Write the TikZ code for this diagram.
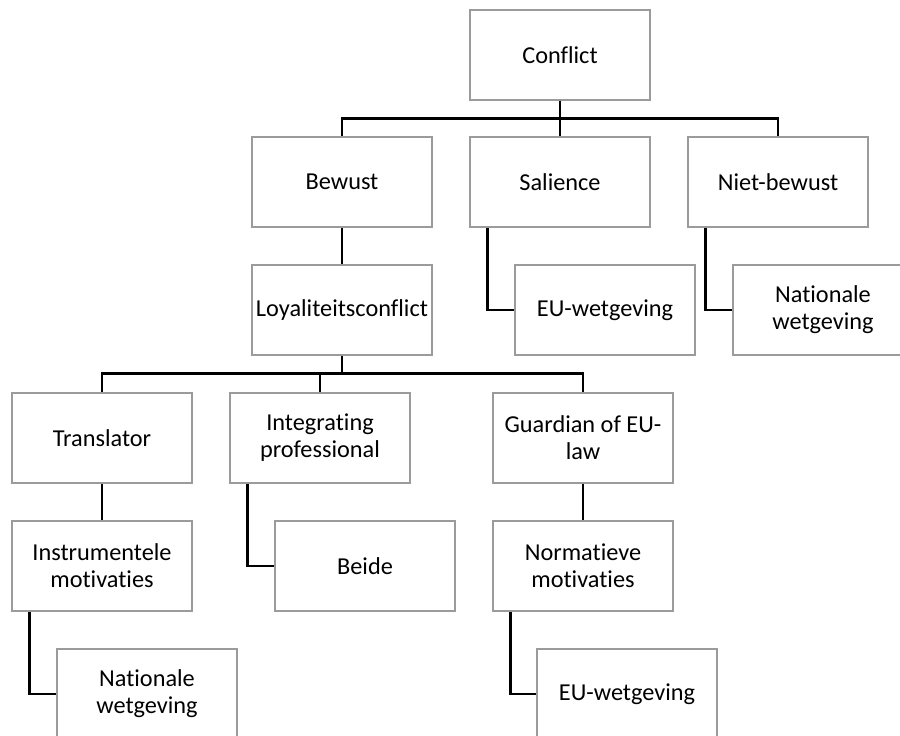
\documentclass[tikz,border=0pt]{standalone}
\usepackage{fontspec}
\setmainfont{Carlito}[Ligatures={NoCommon}]
\definecolor{boxgray}{RGB}{155,155,155}
\begin{document}
\begin{tikzpicture}[x=1pt,y=-1pt,
  box/.style={draw=boxgray, line width=1.1pt, fill=white,
    minimum width=180pt, minimum height=90pt, inner sep=0pt,
    align=center, font=\fontsize{24.3}{27}\selectfont},
  link/.style={draw=black, line width=2.4pt}]
\useasboundingbox (0,0) rectangle (900,736);
\clip (0,0) rectangle (900,736);
\fill[white] (0,0) rectangle (900,736);

% level 1
\node[box] (conflict) at (560,55) {Conflict};
% level 2
\node[box] (bewust) at (342,182) {Bewust};
\node[box] (salience) at (560,182) {Salience};
\node[box] (nietbewust) at (778,182) {Niet-bewust};
% level 3
\node[box] (loyal) at (342,310) {Loyaliteitsconflict};
\node[box] (euwet1) at (605,310) {EU-wetgeving};
\node[box] (natwet1) at (823,310) {Nationale\\wetgeving};
% level 4
\node[box] (translator) at (102,438) {Translator};
\node[box] (integrating) at (320,438) {Integrating\\professional};
\node[box] (guardian) at (583,438) {Guardian of EU-\\law};
% level 5
\node[box] (instrumentele) at (102,566) {Instrumentele\\motivaties};
\node[box] (beide) at (365,566) {Beide};
\node[box] (normatieve) at (583,566) {Normatieve\\motivaties};
% level 6
\node[box] (natwet2) at (147,694) {Nationale\\wetgeving};
\node[box] (euwet2) at (627,694) {EU-wetgeving};

% tree connectors
\draw[link] (conflict.south) -- (salience.north);
\draw[link] (conflict.south) -- ++(0,18) coordinate (busA);
\draw[link] (busA) -| (bewust.north);
\draw[link] (busA) -| (nietbewust.north);
\draw[link] (bewust.south) -- (loyal.north);
\draw[link] ([xshift=18pt]salience.south west) |- (euwet1.west);
\draw[link] ([xshift=18pt]nietbewust.south west) |- (natwet1.west);

\draw[link] (loyal.south) -- ++(0,18) coordinate (busB);
\draw[link] (busB) -| (translator.north);
\draw[link] (busB) -| (integrating.north);
\draw[link] (busB) -| (guardian.north);

\draw[link] (translator.south) -- (instrumentele.north);
\draw[link] ([xshift=18pt]integrating.south west) |- (beide.west);
\draw[link] (guardian.south) -- (normatieve.north);
\draw[link] ([xshift=18pt]instrumentele.south west) |- (natwet2.west);
\draw[link] ([xshift=18pt]normatieve.south west) |- (euwet2.west);
\end{tikzpicture}
\end{document}
